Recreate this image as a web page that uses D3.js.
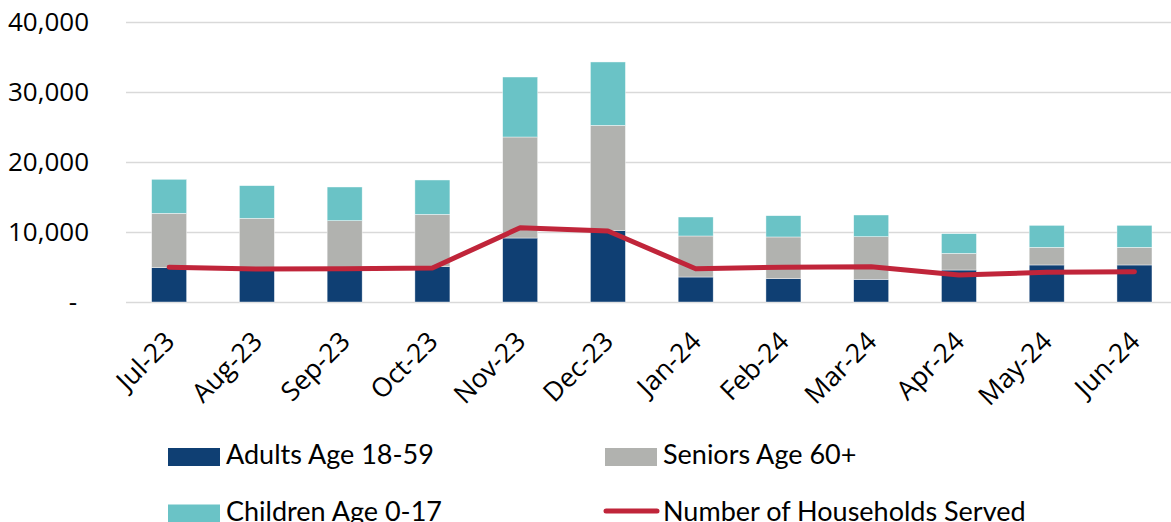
<!DOCTYPE html>
<html>
<head>
<meta charset="utf-8">
<script src="https://cdn.jsdelivr.net/npm/d3@7"></script>
<style>
  body { margin: 0; background: #fff; }
  .axis text { font-family: "Open Sans", sans-serif; fill: #000; }
  .legend text { font-family: Lato, sans-serif; fill: #000; }
</style>
</head>
<body>
<script>
// data
var months = ["Jul-23", "Aug-23", "Sep-23", "Oct-23", "Nov-23", "Dec-23",
              "Jan-24", "Feb-24", "Mar-24", "Apr-24", "May-24", "Jun-24"];
var adults   = [4900, 4750, 4700, 5050, 9140, 10190, 3570, 3330, 3240, 4570, 5290, 5290];
var seniors  = [7770, 7210, 6920, 7470, 14430, 15050, 5860, 5960, 6090, 2380, 2520, 2520];
var children = [4860, 4660, 4810, 4910, 8570, 9050, 2710, 3040, 3100, 2810, 3140, 3140];
var households = [4960, 4710, 4760, 4860, 10610, 10140, 4760, 4960, 5040, 3860, 4240, 4330];
var yTicks = [0, 10000, 20000, 30000, 40000];

var keys = ["adults", "seniors", "children"];
var colors = {adults: "#0F3F73", seniors: "#B1B2AF", children: "#6AC3C6"};
var lineColor = "#C0253A";

var width = 1171;
var height = 522;

var svg = d3.select("body")
  .append("svg")
    .attr("width", width)
    .attr("height", height);

//Scales
var x = d3.scaleBand()
  .domain(months)
  .range([125.3, 1178.3])
  .paddingInner(0.601)
  .paddingOuter(0.3);

var y = d3.scaleLinear()
  .domain([0, 40000])
  .range([302, 22]);

//Gridlines + y labels
var yAxis = svg.append("g")
  .attr("class", "axis y-axis")
  .attr("transform", "translate(126,0)")
  .call(d3.axisLeft(y)
    .tickValues(yTicks)
    .tickSize(-1100)
    .tickPadding(37)
    .tickFormat(d => d === 0 ? "-" : d3.format(",")(d)));

yAxis.select(".domain").remove();
yAxis.selectAll(".tick line")
  .attr("stroke", "#D9D9D9")
  .attr("stroke-width", 1.6);
yAxis.selectAll(".tick text")
  .attr("font-size", 26)
  .attr("dy", "0.34em")
  .filter(d => d === 0)
    .attr("x", -49);

//Bars
var table = months.map((m, i) => ({
  month: m, adults: adults[i], seniors: seniors[i], children: children[i]
}));
var series = d3.stack().keys(keys)(table);

svg.append("g")
  .selectAll("g")
  .data(series)
  .enter().append("g")
    .attr("fill", d => colors[d.key])
  .selectAll("rect")
  .data(d => d)
  .enter().append("rect")
    .attr("x", d => x(d.data.month))
    .attr("y", d => y(d[1]))
    .attr("width", x.bandwidth())
    .attr("height", d => y(d[0]) - y(d[1]))
    .attr("stroke", "#ffffff")
    .attr("stroke-width", 0.6)
    .attr("stroke-opacity", 0.7);

//Line
var line = d3.line()
  .x((d, i) => x(months[i]) + x.bandwidth() / 2)
  .y(d => y(d));

svg.append("path")
  .datum(households)
  .attr("fill", "none")
  .attr("stroke", lineColor)
  .attr("stroke-width", 5)
  .attr("stroke-linecap", "round")
  .attr("stroke-linejoin", "round")
  .attr("d", line);

//X labels
var xAxis = svg.append("g").attr("class", "axis x-axis");
xAxis.selectAll("text")
  .data(months)
  .enter().append("text")
    .attr("font-size", 26.5)
    .attr("text-anchor", "end")
    .attr("transform", d => "translate(" + (x(d) + x.bandwidth() / 2 + 7) + ",343) rotate(-45)")
    .text(d => d);

//Legend
var legendItems = [
  {label: "Adults Age 18-59", color: colors.adults, type: "rect", x: 168, y: 457},
  {label: "Seniors Age 60+", color: colors.seniors, type: "rect", x: 605, y: 457},
  {label: "Children Age 0-17", color: colors.children, type: "rect", x: 168, y: 513.5},
  {label: "Number of Households Served", color: lineColor, type: "line", x: 605, y: 511}
];

var legend = svg.append("g").attr("class", "legend");
var items = legend.selectAll("g")
  .data(legendItems)
  .enter().append("g")
    .attr("transform", d => "translate(" + d.x + "," + d.y + ")");

items.filter(d => d.type === "rect")
  .append("rect")
    .attr("x", 0)
    .attr("y", -9)
    .attr("width", 52)
    .attr("height", 18)
    .attr("fill", d => d.color);

items.filter(d => d.type === "line")
  .append("line")
    .attr("x1", 1)
    .attr("x2", 52)
    .attr("stroke", d => d.color)
    .attr("stroke-width", 5)
    .attr("stroke-linecap", "round");

items.append("text")
  .attr("x", 58)
  .attr("y", d => d.type === "line" ? 10 : 7)
  .attr("font-size", 27)
  .text(d => d.label);
</script>
</body>
</html>
